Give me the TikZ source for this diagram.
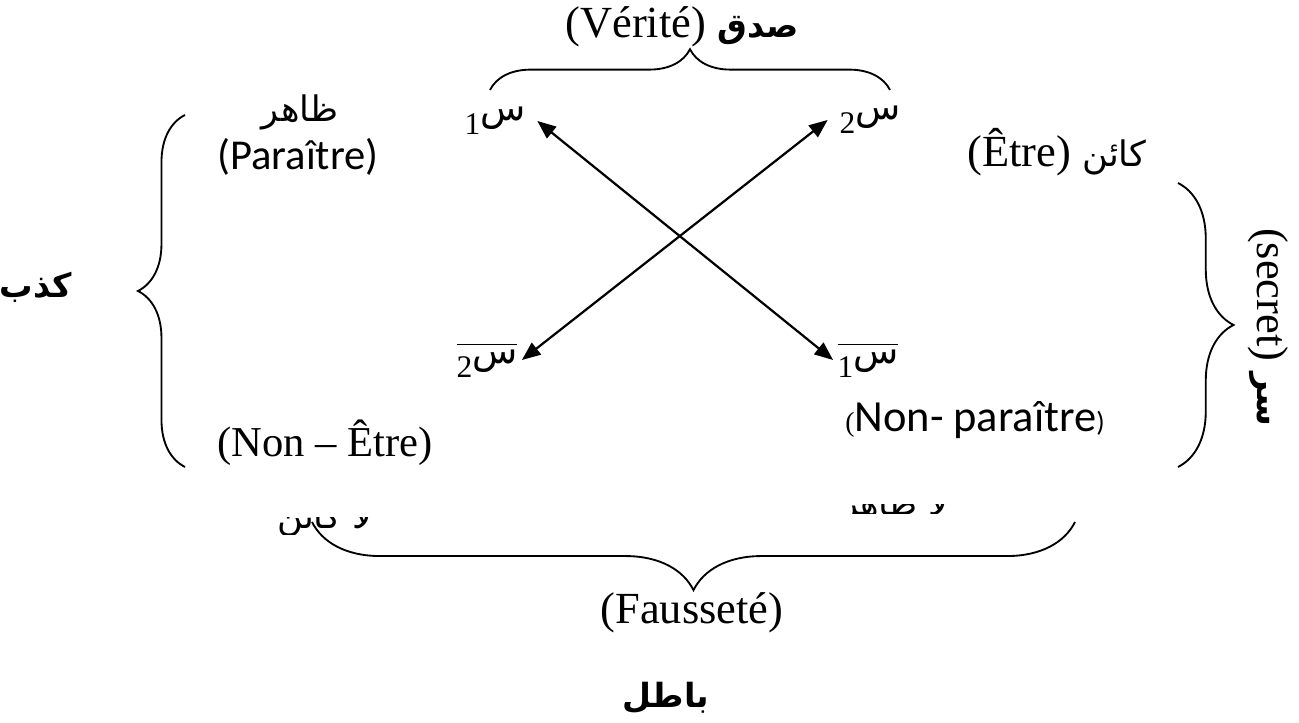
\documentclass[tikz,border=0pt]{standalone}
\usepackage{fontspec}
\setmainfont{Liberation Serif}
\newfontfamily\calibri{Carlito}
\newfontfamily\arabicfont[Script=Arabic]{DejaVu Sans}
\TeXXeTstate=1
\usetikzlibrary{arrows.meta,decorations.pathreplacing}
\newcommand{\arab}[1]{{\arabicfont\fontsize{9.5}{11}\selectfont\beginR #1\endR}}
\newcommand{\arabb}[1]{{\arabicfont\bfseries\fontsize{9}{11}\selectfont\beginR #1\endR}}
\newcommand{\sinsub}[1]{\raisebox{-0.7ex}{\fontsize{8.5}{9}\selectfont #1}{\arabicfont\fontsize{10}{11}\selectfont س}}
\newcommand{\sinbar}[1]{$\overline{\hbox{\sinsub{#1}}}$}
\begin{document}
\begin{tikzpicture}[x=0.27pt,y=-0.27pt,
    every node/.style={font=\fontsize{12}{14}\selectfont},
    lbl/.style={inner sep=1pt},
    dbl/.style={{Triangle[length=5pt,width=4pt]}-{Triangle[length=5pt,width=4pt]},line width=0.6pt},
    curly/.style={decorate,decoration={brace,amplitude=#1},line width=0.5pt}]
    \useasboundingbox (0,0) rectangle (1299,723);

    \node[lbl] (verite) at (682,27) {(Vérité) \arabb{صدق}};
    \node[lbl] (zahir) at (300,112) {\arab{ظاهر}};
    \node[lbl] (paraitre) at (298,157) {\calibri\fontsize{11.5}{12}\selectfont (Paraître)};
    \node[lbl] (etre) at (1057,152) {(Être) \arab{كائن}};
    \node[lbl] (kadhib) at (36,287) {\arabb{كذب}};
    \node[lbl,rotate=-90] (secret) at (1268,327) {(secret) \arabb{سر}};
    \node[lbl] (nonparaitre) at (975,420) {{\fontsize{7.5}{8}\selectfont(}\calibri Non- paraître{\fontsize{7.5}{8}\selectfont)}};
    \node[lbl] (nonetre) at (325,443) {\fontsize{11.5}{13}\selectfont (Non – Être)};
    \node[lbl] (faussete) at (692,613) {(Fausseté)};
    \node[lbl] (batil) at (666,698) {\arabb{باطل}};

    \node[lbl,inner sep=3pt] (s1) at (495,121) {\sinsub{1}};
    \node[lbl,inner sep=3pt] (s2) at (870,120) {\sinsub{2}};
    \node[lbl,inner sep=1pt] (nots2) at (487,360) {\sinbar{2}};
    \node[lbl,inner sep=1pt] (nots1) at (868,360) {\sinbar{1}};

    \draw[dbl] (s1.east) -- (nots1.west);
    \draw[dbl] (nots2.east) -- (s2.west);

    \draw[curly=11pt] (490,90) -- (890,90);
    \draw[curly=12.7pt] (185,467) -- (185,115);
    \draw[curly=15pt] (1178,183) -- (1178,467);
    \draw[curly=18.4pt] (1075,522) -- (312,522);

    \begin{scope}
        \clip (250,518) rectangle (400,535);
        \node[lbl,anchor=base] (lakain) at (325,529) {\arab{لا كائن}};
    \end{scope}
    \begin{scope}
        \clip (840,505) rectangle (950,514);
        \node[lbl,anchor=base] (lazahir) at (895,516) {\arab{لا ظاهر}};
    \end{scope}
\end{tikzpicture}
\end{document}
